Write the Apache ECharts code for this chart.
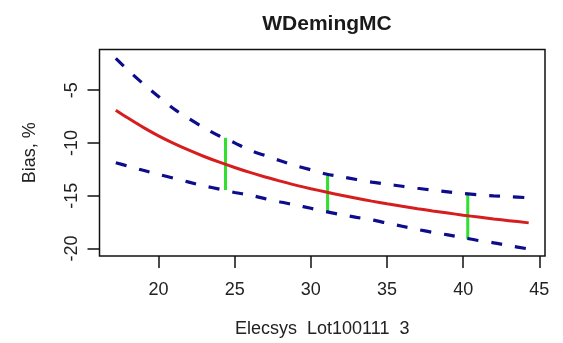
<!DOCTYPE html>
<html>
<head>
<meta charset="utf-8">
<script src="https://cdn.jsdelivr.net/npm/echarts@6/dist/echarts.min.js"></script>
<style>
  html, body { margin: 0; padding: 0; background: #fff; }
  #chart { width: 563px; height: 343px; }
</style>
</head>
<body>
<div id="chart"></div>
<script>
// Concentration grid for the bias curves
const xs = [17.2, 18, 19, 20, 21, 22, 23, 24, 25, 26, 27, 28, 29, 30, 31, 32,
            33, 34, 35, 36, 37, 38, 39, 40, 41, 42, 43, 44.3];
// Estimated bias (%) from the weighted Deming fit
const fitBias = [-6.9, -7.65, -8.53, -9.33, -10.04, -10.69, -11.29, -11.83, -12.33, -12.8,
                 -13.23, -13.62, -14.0, -14.34, -14.66, -14.97, -15.25, -15.52, -15.77, -16.01,
                 -16.24, -16.45, -16.65, -16.85, -17.03, -17.21, -17.37, -17.58];
// Upper and lower confidence limits of the bias (%)
const upperCI = [-2.0, -3.1, -4.4, -5.6, -6.77, -7.7, -8.57, -9.35, -10.0, -10.7,
                 -11.2, -11.7, -12.15, -12.55, -12.95, -13.2, -13.47, -13.72, -13.92, -14.11,
                 -14.3, -14.48, -14.64, -14.8, -14.92, -15.02, -15.1, -15.2];
const lowerCI = [-11.88, -12.2, -12.6, -12.98, -13.35, -13.72, -14.08, -14.38, -14.7, -14.95,
                 -15.28, -15.6, -15.88, -16.2, -16.52, -16.8, -17.06, -17.3, -17.6, -17.9,
                 -18.2, -18.48, -18.72, -18.98, -19.25, -19.47, -19.73, -20.06];
// Medical decision points with their confidence intervals
const decisionX = [24.4, 31.1, 40.3];
const decisionLow = [-14.47, -16.58, -19.14];
const decisionHigh = [-9.52, -12.99, -14.85];
// Axis ticks
const xTicks = [20, 25, 30, 35, 40, 45];
const yTicks = [-20, -15, -10, -5];

const FONT = 'Liberation Sans, Arial, sans-serif';
const pairs = (ys) => xs.map((x, i) => [x, ys[i]]);

const chart = echarts.init(document.getElementById('chart'), null, { renderer: 'canvas' });
chart.setOption({
  animation: false,
  backgroundColor: '#ffffff',
  title: {
    text: 'WDemingMC',
    left: 322,
    top: 9,
    textAlign: 'center',
    textStyle: { fontFamily: FONT, fontSize: 21, fontWeight: 'bold', color: '#1a1a1a' }
  },
  grid: {
    left: 99.5, top: 49.5, right: 18, bottom: 87,
    show: true, borderColor: '#111', borderWidth: 1.5, backgroundColor: 'transparent'
  },
  xAxis: {
    type: 'value',
    min: 16.13, max: 45.37,
    name: 'Elecsys\u00a0\u00a0Lot100111\u00a0\u00a03',
    nameLocation: 'middle',
    nameGap: 64,
    nameTextStyle: { fontFamily: FONT, fontSize: 18, color: '#222' },
    axisLine: { show: false },
    splitLine: { show: false },
    axisTick: { show: true, customValues: xTicks, length: 12, lineStyle: { color: '#111', width: 1.5 } },
    axisLabel: { customValues: xTicks, fontFamily: FONT, fontSize: 18, color: '#222', margin: 25 }
  },
  yAxis: {
    type: 'value',
    min: -20.72, max: -1.15,
    name: 'Bias, %',
    nameLocation: 'middle',
    nameGap: 60,
    nameTextStyle: { fontFamily: FONT, fontSize: 18, color: '#222' },
    axisLine: { show: false },
    splitLine: { show: false },
    axisTick: { show: true, customValues: yTicks, length: 12, lineStyle: { color: '#111', width: 1.5 } },
    axisLabel: { customValues: yTicks, rotate: 90, fontFamily: FONT, fontSize: 18, color: '#222', margin: 18 }
  },
  series: [
    {
      name: 'bias', type: 'line', data: pairs(fitBias), smooth: 0.3,
      showSymbol: false, symbol: 'none',
      lineStyle: { color: '#d61e1e', width: 3 }
    },
    {
      name: 'upper', type: 'line', data: pairs(upperCI), smooth: 0.3,
      showSymbol: false, symbol: 'none',
      lineStyle: { color: '#0c0c8c', width: 3.2, type: [11, 13] }
    },
    {
      name: 'lower', type: 'line', data: pairs(lowerCI), smooth: 0.3,
      showSymbol: false, symbol: 'none',
      lineStyle: { color: '#0c0c8c', width: 3.2, type: [11, 13] }
    },
    {
      name: 'decision', type: 'custom',
      data: decisionX.map((x, i) => [x, decisionLow[i], decisionHigh[i]]),
      renderItem: (params, api) => {
        const a = api.coord([api.value(0), api.value(1)]);
        const b = api.coord([api.value(0), api.value(2)]);
        return {
          type: 'line',
          shape: { x1: a[0], y1: a[1], x2: b[0], y2: b[1] },
          style: { stroke: '#2fe02f', lineWidth: 3 }
        };
      }
    }
  ]
});
</script>
</body>
</html>
